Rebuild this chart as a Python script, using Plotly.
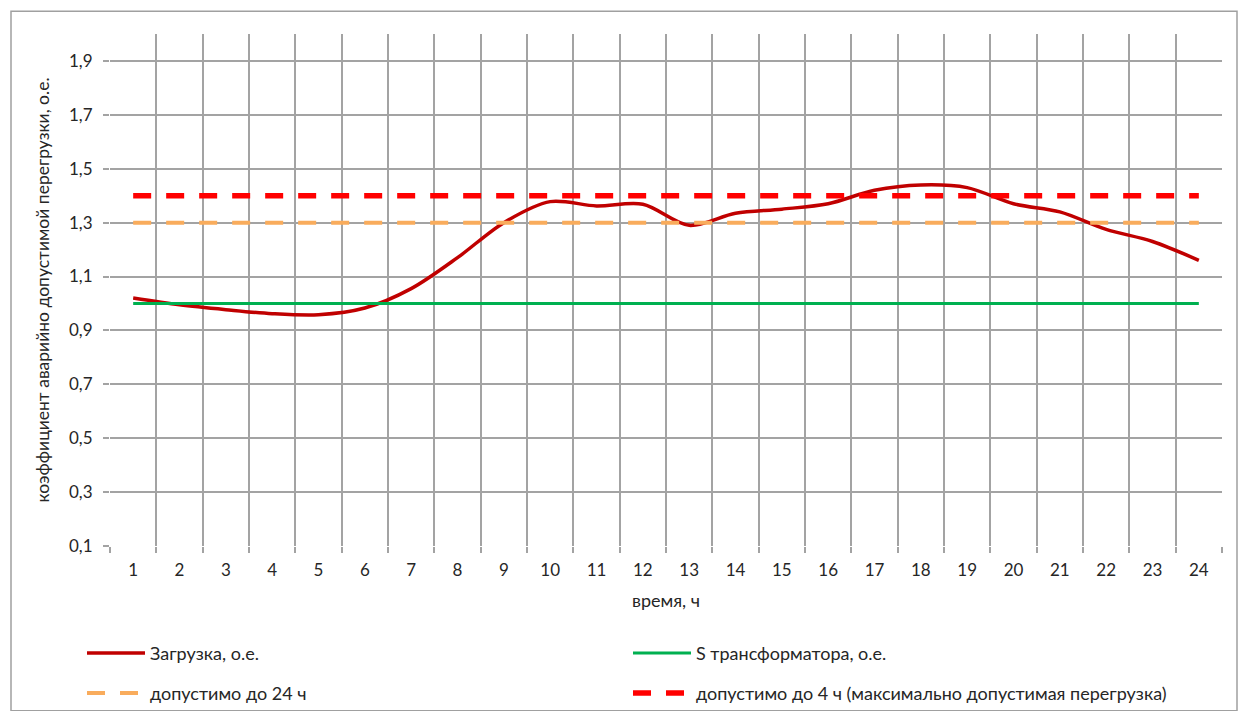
import plotly.graph_objects as go

hours = list(range(1, 25))
load = [1.02, 0.995, 0.977, 0.962, 0.958, 0.983, 1.055, 1.17, 1.30, 1.378, 1.362, 1.368,
        1.29, 1.335, 1.35, 1.37, 1.42, 1.44, 1.43, 1.37, 1.34, 1.275, 1.23, 1.16]
s_trans = [1.0] * 24
allow_24h = [1.3] * 24
allow_4h = [1.4] * 24

names = ["Загрузка, о.е.", "S трансформатора, о.е.", "допустимо до 24 ч",
         "допустимо до 4 ч (максимально допустимая перегрузка)"]

y_ticks = [0.1, 0.3, 0.5, 0.7, 0.9, 1.1, 1.3, 1.5, 1.7, 1.9]

FONT = "Lato"
TXT = "#262626"
fig = go.Figure()
fig.add_trace(go.Scatter(x=hours, y=load, name=names[0], mode="lines", legend="legend",
                         line=dict(color="#C00000", width=3.5, shape="spline", smoothing=0.9)))
fig.add_trace(go.Scatter(x=hours, y=s_trans, name=names[1], mode="lines", legend="legend2",
                         line=dict(color="#00B050", width=3)))
fig.add_trace(go.Scatter(x=hours, y=allow_24h, name=names[2], mode="lines", legend="legend3",
                         line=dict(color="#F9AC5C", width=4, dash="18px,15px")))
fig.add_trace(go.Scatter(x=hours, y=allow_4h, name=names[3], mode="lines", legend="legend4",
                         line=dict(color="#FF0000", width=5.5, dash="18px,15px")))

grid = "#A3A3A3"
W, H = 1241, 724
ML, MR, MT, MB = 110, 19, 34, 171
PW = float(W - ML - MR)
PH = float(H - MT - MB)
Y0 = H - MB  # pixel y of the x axis


def leg(px_left, y):
    return dict(orientation="v", x=(px_left - ML) / PW, xanchor="left", y=y, yanchor="top",
                itemwidth=58, font=dict(family=FONT, size=18, color=TXT),
                bgcolor="rgba(0,0,0,0)")


fig.update_layout(
    width=W, height=H,
    margin=dict(l=ML, r=MR, t=MT, b=MB),
    paper_bgcolor="white", plot_bgcolor="white",
    separators=", ",
    font=dict(family=FONT, size=17, color=TXT),
    showlegend=True,
    legend=leg(82, (Y0 - 643) / PH),
    legend2=leg(628, (Y0 - 643) / PH),
    legend3=leg(82, (Y0 - 683.5) / PH),
    legend4=leg(628, (Y0 - 683.5) / PH),
    xaxis=dict(range=[0.5, 24.5], tickmode="array", tickvals=hours, automargin=False,
               ticktext=[str(h) for h in hours], showgrid=False, zeroline=False,
               ticks="", ticklabelstandoff=12, tickfont=dict(size=17),
               minor=dict(tick0=0.5, dtick=1, showgrid=True, gridcolor=grid, gridwidth=1.6,
                          ticks="outside", ticklen=6, tickcolor=grid, tickwidth=1.6),
               title=dict(text="время, ч", standoff=15, font=dict(family=FONT, size=18)),
               showline=False),
    yaxis=dict(range=[0.1, 2.0], tickmode="array", tickvals=y_ticks, automargin=False,
               ticktext=[f"{v:.1f}".replace(".", ",") for v in y_ticks],
               showgrid=True, gridcolor=grid, gridwidth=1.6, zeroline=False,
               ticks="outside", ticklen=6, tickcolor=grid, tickwidth=1.6,
               ticklabelstandoff=7, tickfont=dict(size=17),
               title=dict(text="коэффициент аварийно допустимой перегрузки, о.е.", standoff=14,
                          font=dict(family=FONT, size=17.5)),
               showline=False),
)
# outer chart border
fig.add_shape(type="rect", xref="paper", yref="paper",
              x0=(11 - ML) / PW, x1=(1237 - ML) / PW,
              y0=(Y0 - 720) / PH, y1=(Y0 - 11) / PH,
              line=dict(color="#A0A0A0", width=1.5), fillcolor="rgba(0,0,0,0)", layer="below")

post = ("document.documentElement.style.margin='0';document.body.style.margin='0';"
        "document.documentElement.style.overflow='hidden';document.body.style.overflow='hidden';"
        "var d=document.getElementById('{plot_id}');d.style.position='fixed';"
        "d.style.top='0px';d.style.left='0px';")
fig.write_html("out.html", config={"displayModeBar": False}, post_script=post)
